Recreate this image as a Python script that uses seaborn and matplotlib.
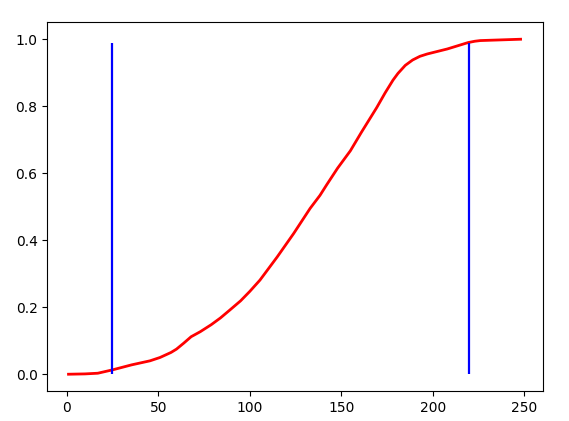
import numpy as np
import pandas as pd
import matplotlib
matplotlib.use('Agg')
import matplotlib.pyplot as plt
import seaborn as sns

# cumulative curve
curve_x = [1, 10, 17, 25, 35.5, 45.5, 51, 57, 60, 64, 68, 73, 79, 84, 89, 95, 100, 105.6, 115,
           124, 133, 138.4, 142, 148, 155, 161, 169.4, 174, 178.3, 181, 185, 189, 193, 197,
           208, 219.3, 223, 226, 237, 248]
curve_y = [0.0, 0.001, 0.003, 0.013, 0.028, 0.04, 0.05, 0.065, 0.075, 0.093, 0.112, 0.127,
           0.148, 0.168, 0.191, 0.219, 0.247, 0.281, 0.35, 0.42, 0.495, 0.534, 0.565, 0.615,
           0.667, 0.722, 0.796, 0.84, 0.878, 0.898, 0.922, 0.938, 0.949, 0.956, 0.971, 0.99,
           0.994, 0.996, 0.998, 1.0]

# vertical cut-off markers
cut_x = [25, 220]
cut_bottom = [0.0, 0.0]
cut_top = [0.99, 0.99]

df_curve = pd.DataFrame({'x': curve_x, 'y': curve_y})

fig = plt.figure(figsize=(5.69, 4.21), dpi=100)
ax = fig.add_axes([0.0831, 0.0713, 0.8717, 0.8753])

sns.lineplot(data=df_curve, x='x', y='y', color='r', linewidth=2.0, ax=ax)
ax.vlines(cut_x, cut_bottom, cut_top, colors='b', linewidth=1.6)

ax.set_xlabel('')
ax.set_ylabel('')
ax.set_xlim(-10.6, 260.4)
ax.set_xticks([0, 50, 100, 150, 200, 250])
ax.set_yticks([0.0, 0.2, 0.4, 0.6, 0.8, 1.0])

fig.savefig('out.png', dpi=100)
